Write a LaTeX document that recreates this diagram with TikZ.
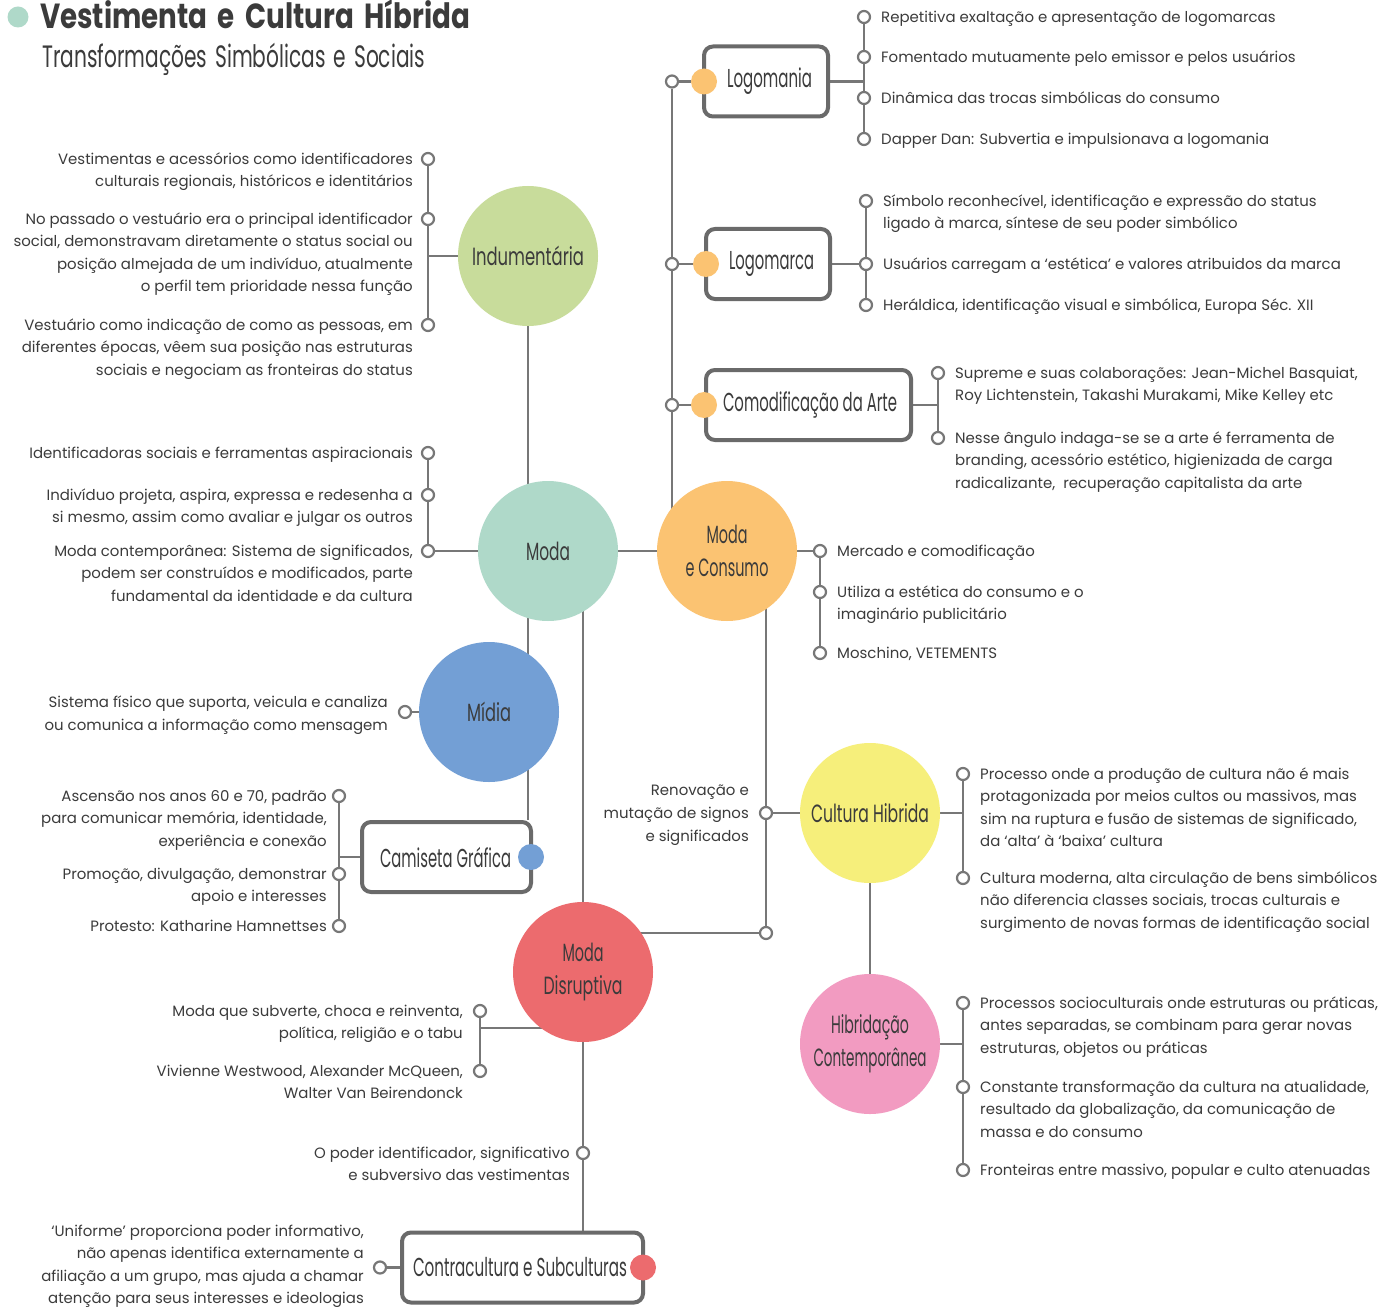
\documentclass[tikz,border=0pt]{standalone}
\usepackage{fontspec}
\usepackage{graphicx}
\setmainfont{Poppins}
\newfontfamily\hubfont{Poppins}
\usetikzlibrary{backgrounds}

\definecolor{ink}{HTML}{3B3B3B}
\definecolor{wire}{HTML}{777777}
\definecolor{frame}{HTML}{6A6A6A}
\definecolor{cgreen}{HTML}{C8DC9B}
\definecolor{cteal}{HTML}{AFD9C9}
\definecolor{corange}{HTML}{FBC372}
\definecolor{cblue}{HTML}{739FD5}
\definecolor{cyellow}{HTML}{F6EF7B}
\definecolor{cred}{HTML}{EC6B6E}
\definecolor{cpink}{HTML}{F29BC1}

% invisible rule fixing the height of a label's first line
\newcommand\lead{\rule{0pt}{12bp}}
% condensed heading text squeezed to a given width (in bp)
\newcommand\fitw[2]{\resizebox{#1bp}{\height}{#2}}

\tikzset{
  link/.style={draw=wire, line width=2.4bp},
  hub/.style={circle, minimum size=140bp, inner sep=0pt, text=ink, align=center,
    font=\hubfont\fontsize{25}{33}\selectfont},
  tag/.style={draw=frame, line width=4bp, rounded corners=9bp, fill=white,
    minimum height=70bp, inner sep=0pt, text=ink,
    font=\hubfont\fontsize{26}{30}\selectfont},
  bullet/.style={circle, minimum size=26bp, inner sep=0pt},
  dot/.style={circle, draw=wire, line width=2.2bp, fill=white, minimum size=12bp, inner sep=0pt},
  note/.style={inner sep=0pt, text=ink, font=\fontsize{15}{22.6}\selectfont},
  leafR/.style={note, align=left, anchor=north west, xshift=17bp, yshift=7bp},
  leafL/.style={note, align=right, anchor=north east, xshift=-15bp, yshift=7bp},
}

\begin{document}
\begin{tikzpicture}[x=1bp, y=-1bp]
\path[use as bounding box] (0,0) rectangle (1393,1308);

% ---- heading
\node[circle, fill=cteal, minimum size=21bp, inner sep=0pt] (mark) at (18,17) {};
\node[anchor=base west, inner sep=0pt, text=ink] (title) at (40,29)
  {\resizebox{430bp}{\height}{\fontsize{35}{40}\selectfont\bfseries\spaceskip=0.38em Vestimenta e Cultura Híbrida}};
\node[anchor=base west, inner sep=0pt, text=ink] (subtitle) at (42,68)
  {\resizebox{383bp}{\height}{\fontsize{31}{36}\selectfont\spaceskip=0.4em Transformações Simbólicas e Sociais}};

% ---- main topics
\node[hub, fill=cgreen]  (indu)    at (528,256)  {\fitw{112}{Indumentária}};
\node[hub, fill=cteal]   (moda)    at (548,551)  {\fitw{44}{Moda}};
\node[hub, fill=corange] (cons)    at (727,551)  {\fitw{41}{Moda}\\\fitw{83}{e Consumo}};
\node[hub, fill=cblue]   (midia)   at (489,712)  {\fitw{44}{Mídia}};
\node[hub, fill=cyellow] (hib)     at (870,813)  {\fitw{118}{Cultura Hibrida}};
\node[hub, fill=cred]    (disr)    at (583,972)  {\fitw{41}{Moda}\\\fitw{79}{Disruptiva}};
\node[hub, fill=cpink]   (contemp) at (870,1044) {\fitw{78}{Hibridação}\\\fitw{113}{Contemporânea}};

% ---- framed sub-topics
\node[tag, minimum width=124bp] (logomania) at (766,81.5)   {\hspace*{7bp}\fitw{85}{Logomania}};
\node[tag, minimum width=124bp] (logomarca) at (768,264)    {\hspace*{7bp}\fitw{85}{Logomarca}};
\node[tag, minimum width=205bp] (comod)     at (808.5,405)  {\hspace*{3bp}\fitw{174}{Comodificação da Arte}};
\node[tag, minimum width=169bp] (cam)       at (446.5,857)  {\fitw{131}{Camiseta Gráfica}\hspace*{2bp}};
\node[tag, minimum width=241bp] (contra)    at (522.5,1267.5) {\fitw{214}{Contracultura e Subculturas}\hspace*{5bp}};

\node[bullet, fill=corange] (bA) at (704,81.5) {};
\node[bullet, fill=corange] (bB) at (706,264)  {};
\node[bullet, fill=corange] (bC) at (704,405)  {};
\node[bullet, fill=cblue]   (bD) at (531,857)  {};
\node[bullet, fill=cred]    (bE) at (643,1267.5) {};

% ---- junction dots
\node[dot] (tA) at (672,81.5) {};
\node[dot] (tB) at (672,264) {};
\node[dot] (tC) at (672,405) {};

\node[dot] (lgA) at (864,17) {};
\node[dot] (lgB) at (864,57) {};
\node[dot] (lgC) at (864,98) {};
\node[dot] (lgD) at (864,139) {};

\node[dot] (lmA) at (866,201) {};
\node[dot] (lmB) at (866,264) {};
\node[dot] (lmC) at (866,305) {};

\node[dot] (coA) at (938,373) {};
\node[dot] (coB) at (938,438) {};

\node[dot] (cL1) at (820,551) {};
\node[dot] (cL2) at (820,592) {};
\node[dot] (cL3) at (820,653) {};

\node[dot] (rn) at (766,813) {};
\node[dot] (jd) at (766,933) {};

\node[dot] (hA) at (963,774) {};
\node[dot] (hB) at (963,878) {};

\node[dot] (pA) at (963,1003) {};
\node[dot] (pB) at (963,1087) {};
\node[dot] (pC) at (963,1170) {};

\node[dot] (iL1) at (428,159) {};
\node[dot] (iL2) at (428,219) {};
\node[dot] (iL3) at (428,325) {};

\node[dot] (mL1) at (428,453) {};
\node[dot] (mL2) at (428,495) {};
\node[dot] (mL3) at (428,551) {};

\node[dot] (md) at (405,712) {};

\node[dot] (kA) at (339,796) {};
\node[dot] (kB) at (339,874) {};
\node[dot] (kC) at (339,926) {};

\node[dot] (dA) at (480,1011) {};
\node[dot] (dB) at (480,1071) {};
\coordinate (dj) at (480,1028);

\node[dot] (db) at (583,1153) {};
\node[dot] (ct) at (380,1267.5) {};

% ---- labels, right-hand side
\node[leafR] at (lgA) {\lead Repetitiva exaltação e apresentação de logomarcas};
\node[leafR] at (lgB) {\lead Fomentado mutuamente pelo emissor e pelos usuários};
\node[leafR] at (lgC) {\lead Dinâmica das trocas simbólicas do consumo};
\node[leafR] at (lgD) {\lead Dapper Dan: Subvertia e impulsionava a logomania};

\node[leafR] at (lmA) {\lead Símbolo reconhecível, identificação e expressão do status\\ligado à marca, síntese de seu poder simbólico};
\node[leafR] at (lmB) {\lead Usuários carregam a ‘estética’ e valores atribuidos da marca};
\node[leafR] at (lmC) {\lead Heráldica, identificação visual e simbólica, Europa Séc. XII};

\node[leafR] at (coA) {\lead Supreme e suas colaborações: Jean-Michel Basquiat,\\Roy Lichtenstein, Takashi Murakami, Mike Kelley etc};
\node[leafR] at (coB) {\lead Nesse ângulo indaga-se se a arte é ferramenta de\\branding, acessório estético, higienizada de carga\\radicalizante,\ \ recuperação capitalista da arte};

\node[leafR] at (cL1) {\lead Mercado e comodificação};
\node[leafR] at (cL2) {\lead Utiliza a estética do consumo e o\\imaginário publicitário};
\node[leafR] at (cL3) {\lead Moschino, VETEMENTS};

\node[leafR] at (hA) {\lead Processo onde a produção de cultura não é mais\\protagonizada por meios cultos ou massivos, mas\\sim na ruptura e fusão de sistemas de significado,\\da ‘alta’ à ‘baixa’ cultura};
\node[leafR] at (hB) {\lead Cultura moderna, alta circulação de bens simbólicos\\não diferencia classes sociais, trocas culturais e\\surgimento de novas formas de identificação social};

\node[leafR] at (pA) {\lead Processos socioculturais onde estruturas ou práticas,\\antes separadas, se combinam para gerar novas\\estruturas, objetos ou práticas};
\node[leafR] at (pB) {\lead Constante transformação da cultura na atualidade,\\resultado da globalização, da comunicação de\\massa e do consumo};
\node[leafR] at (pC) {\lead Fronteiras entre massivo, popular e culto atenuadas};

% ---- labels, left-hand side
\node[note, align=right, anchor=east, xshift=-17bp, yshift=-1.5bp] at (rn) {\lead Renovação e\\mutação de signos\\e significados};

\node[leafL] at (iL1) {\lead Vestimentas e acessórios como identificadores\\culturais regionais, históricos e identitários};
\node[leafL] at (iL2) {\lead No passado o vestuário era o principal identificador\\social, demonstravam diretamente o status social ou\\posição almejada de um indivíduo, atualmente\\o perfil tem prioridade nessa função};
\node[leafL] at (iL3) {\lead Vestuário como indicação de como as pessoas, em\\diferentes épocas, vêem sua posição nas estruturas\\sociais e negociam as fronteiras do status};

\node[leafL] at (mL1) {\lead Identificadoras sociais e ferramentas aspiracionais};
\node[leafL] at (mL2) {\lead Indivíduo projeta, aspira, expressa e redesenha a\\si mesmo, assim como avaliar e julgar os outros};
\node[leafL] at (mL3) {\lead Moda contemporânea: Sistema de significados,\\podem ser construídos e modificados, parte\\fundamental da identidade e da cultura};

\node[note, align=right, anchor=east, xshift=-17bp, yshift=-3bp] at (md) {\lead Sistema físico que suporta, veicula e canaliza\\ou comunica a informação como mensagem};

\node[leafL, xshift=3bp] at (kA) {\lead Ascensão nos anos 60 e 70, padrão\\para comunicar memória, identidade,\\experiência e conexão};
\node[leafL, xshift=3bp] at (kB) {\lead Promoção, divulgação, demonstrar\\apoio e interesses};
\node[leafL, xshift=3bp] at (kC) {\lead Protesto: Katharine Hamnettses};

\node[leafL, xshift=-2bp] at (dA) {\lead Moda que subverte, choca e reinventa,\\política, religião e o tabu};
\node[leafL, xshift=-2bp] at (dB) {\lead Vivienne Westwood, Alexander McQueen,\\Walter Van Beirendonck};

\node[leafL, xshift=2bp] at (db) {\lead O poder identificador, significativo\\e subversivo das vestimentas};

\node[note, align=right, anchor=east, xshift=-16bp, yshift=1.5bp] at (ct) {\lead ‘Uniforme’ proporciona poder informativo,\\não apenas identifica externamente a\\afiliação a um grupo, mas ajuda a chamar\\atenção para seus interesses e ideologias};

% ---- connectors, drawn underneath everything
\begin{pgfonlayer}{background}
\fill[white] (0,0) rectangle (1393,1308);
% left trunk from Indumentária through Moda to Camiseta Gráfica
\draw[link] (indu) -- (indu |- cam.north);
\draw[link] (indu) -- (indu -| iL1);
\draw[link] (iL1) -- (iL3);
\draw[link] (moda) -- (mL3);
\draw[link] (mL1) -- (mL3);
\draw[link] (moda) -- (cons);
\draw[link] (midia) -- (md);
\draw[link] (cam) -- (cam -| kA);
\draw[link] (kA) -- (kC);
% second trunk from Moda through Moda Disruptiva to Contracultura
\draw[link] (disr |- moda) -- (disr |- contra.north);
\draw[link] (dj -| disr) -- (dj);
\draw[link] (dA) -- (dB);
\draw[link] (contra) -- (ct);
% consumption branch
\draw[link] (tA) -- (tA |- cons);
\draw[link] (tA) -- (bA);
\draw[link] (tB) -- (bB);
\draw[link] (tC) -- (bC);
\draw[link] (logomania) -- (logomania -| lgA);
\draw[link] (lgA) -- (lgD);
\draw[link] (logomarca) -- (lmB);
\draw[link] (lmA) -- (lmC);
\draw[link] (comod) -- (comod -| coA);
\draw[link] (coA) -- (coB);
\draw[link] (cons) -- (cL1);
\draw[link] (cL1) -- (cL3);
% hybrid culture branch
\draw[link] (rn |- cons) -- (jd);
\draw[link] (disr |- jd) -- (jd);
\draw[link] (rn) -- (hib);
\draw[link] (hib) -- (hib -| hA);
\draw[link] (hA) -- (hB);
\draw[link] (hib) -- (contemp);
\draw[link] (contemp) -- (contemp -| pA);
\draw[link] (pA) -- (pC);
\end{pgfonlayer}
\end{tikzpicture}
\end{document}
